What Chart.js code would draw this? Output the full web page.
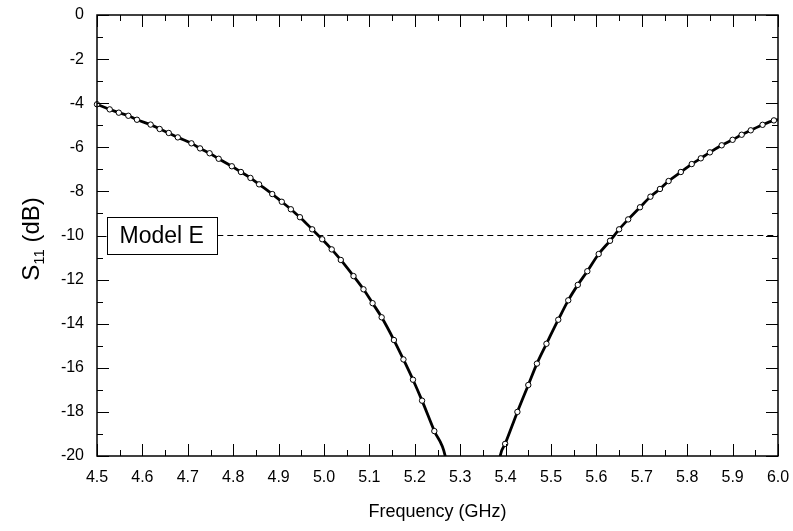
<!DOCTYPE html>
<html lang="en">
<head>
<meta charset="UTF-8">
<title>S11 - Model E</title>
<script src="https://cdn.jsdelivr.net/npm/chart.js"></script>
<style>
  body { margin: 0; background: #fff; }
  #wrap { width: 793px; height: 531px; }
</style>
</head>
<body>
<div id="wrap"><canvas id="s11Chart" width="793" height="531"></canvas></div>
<script>
// measured points (open circles)
const measFreq = [
  4.500, 4.528, 4.548, 4.569, 4.588, 4.618, 4.638, 4.658, 4.678, 4.708,
  4.727, 4.748, 4.768, 4.797, 4.817, 4.838, 4.857, 4.886, 4.907, 4.927,
  4.947, 4.974, 4.996, 5.017, 5.037, 5.065, 5.087, 5.107, 5.127, 5.154,
  5.175, 5.196, 5.216, 5.243,
  5.399, 5.426, 5.450, 5.469, 5.490, 5.516, 5.538, 5.559, 5.580, 5.605,
  5.630, 5.650, 5.670, 5.696, 5.719, 5.740, 5.759, 5.786, 5.810, 5.830,
  5.850, 5.876, 5.900, 5.920, 5.940, 5.966, 5.991
];
const measS11 = [
  -4.05, -4.28, -4.43, -4.57, -4.75, -4.97, -5.17, -5.35, -5.55, -5.82,
  -6.05, -6.27, -6.52, -6.86, -7.12, -7.39, -7.68, -8.12, -8.47, -8.81,
  -9.17, -9.72, -10.17, -10.63, -11.11, -11.84, -12.44, -13.07, -13.71, -14.74,
  -15.62, -16.54, -17.49, -18.87,
  -19.45, -18.00, -16.78, -15.81, -14.91, -13.82, -12.94, -12.24, -11.62, -10.84,
  -10.24, -9.72, -9.27, -8.72, -8.24, -7.89, -7.53, -7.12, -6.76, -6.50,
  -6.23, -5.91, -5.66, -5.43, -5.23, -4.98, -4.78
];
// extra points for the solid model curve (resonance dip goes off the bottom)
const curveFreq = [5.267, 5.300, 5.330, 5.360, 5.388, 6.000];
const curveS11  = [-20.0, -24.5, -28.0, -24.5, -20.0, -4.74];

const refLevel = -10;
const refFreq = [4.765, 6.0];
const boxFreq = 4.6425;
const boxText = 'Model E';

const xMin = 4.5, xMax = 6.0, xMajor = 0.1, xMinor = 0.05;
const yMin = -20, yMax = 0, yMajor = 2, yMinor = 1;

const FONT = '"Liberation Sans", Arial, sans-serif';

const measData = measFreq.map((f, i) => ({ x: f, y: measS11[i] }));
const curveData = measData
  .concat(curveFreq.map((f, i) => ({ x: f, y: curveS11[i] })))
  .sort((a, b) => a.x - b.x);
const refData = refFreq.map(f => ({ x: f, y: refLevel }));

const framePlugin = {
  id: 'frame',
  afterDraw(chart) {
    const ctx = chart.ctx;
    const xs = chart.scales.x, ys = chart.scales.y;
    const a = chart.chartArea;
    ctx.save();

    // inward ticks on all four sides
    ctx.strokeStyle = '#000';
    ctx.lineWidth = 1;
    ctx.beginPath();
    const nx = Math.round((xMax - xMin) / xMinor);
    for (let i = 0; i <= nx; i++) {
      const px = Math.round(xs.getPixelForValue(xMin + i * xMinor)) + 0.5;
      const len = i % 2 === 0 ? 12 : 6;
      ctx.moveTo(px, a.bottom); ctx.lineTo(px, a.bottom - len);
      ctx.moveTo(px, a.top); ctx.lineTo(px, a.top + len);
    }
    const ny = Math.round((yMax - yMin) / yMinor);
    for (let i = 0; i <= ny; i++) {
      const py = Math.round(ys.getPixelForValue(yMin + i * yMinor)) + 0.5;
      const len = i % 2 === 0 ? 12 : 6;
      ctx.moveTo(a.left, py); ctx.lineTo(a.left + len, py);
      ctx.moveTo(a.right, py); ctx.lineTo(a.right - len, py);
    }
    ctx.stroke();

    // frame
    ctx.lineWidth = 1.5;
    ctx.strokeRect(a.left, a.top, a.right - a.left, a.bottom - a.top);

    // "Model E" label box
    ctx.font = '23px ' + FONT;
    const tw = ctx.measureText(boxText).width;
    const cx = xs.getPixelForValue(boxFreq);
    const cy = ys.getPixelForValue(refLevel);
    const bw = tw + 26, bh = 37;
    ctx.fillStyle = '#fff';
    ctx.fillRect(cx - bw / 2, cy - bh / 2, bw, bh);
    ctx.lineWidth = 1;
    ctx.strokeRect(Math.round(cx - bw / 2) + 0.5, Math.round(cy - bh / 2) + 0.5, Math.round(bw), bh);
    ctx.fillStyle = '#000';
    ctx.textAlign = 'center';
    ctx.textBaseline = 'middle';
    ctx.fillText(boxText, cx, cy + 1);

    // y axis title with subscript: S11 (dB)
    const big = '24px ' + FONT, small = '15px ' + FONT;
    ctx.font = big; const wS = ctx.measureText('S').width;
    const wRest = ctx.measureText(' (dB)').width;
    ctx.font = small; const wSub = ctx.measureText('11').width;
    const total = wS + wSub + wRest;
    ctx.translate(32, 239);
    ctx.rotate(-Math.PI / 2);
    ctx.textAlign = 'left';
    ctx.textBaseline = 'middle';
    let x0 = -total / 2;
    ctx.font = big; ctx.fillText('S', x0, 0);
    ctx.font = small; ctx.fillText('11', x0 + wS, 8);
    ctx.font = big; ctx.fillText(' (dB)', x0 + wS + wSub, 0);
    ctx.restore();
  }
};

new Chart(document.getElementById('s11Chart'), {
  type: 'scatter',
  data: {
    datasets: [
      {
        label: 'ref',
        data: refData,
        showLine: true,
        borderColor: '#000',
        borderWidth: 1,
        borderDash: [6, 4],
        pointRadius: 0,
        order: 3
      },
      {
        label: 'model',
        data: curveData,
        showLine: true,
        borderColor: '#000',
        borderWidth: 2.8,
        cubicInterpolationMode: 'monotone',
        pointRadius: 0,
        order: 2
      },
      {
        label: 'measured',
        data: measData,
        showLine: false,
        pointRadius: 2.7,
        pointBackgroundColor: '#fff',
        pointBorderColor: '#000',
        pointBorderWidth: 1,
        clip: false,
        order: 1
      }
    ]
  },
  options: {
    responsive: false,
    animation: false,
    events: [],
    layout: { padding: { left: 0, right: 15, top: 15, bottom: 0 } },
    plugins: { legend: { display: false }, tooltip: { enabled: false } },
    scales: {
      x: {
        type: 'linear',
        min: xMin, max: xMax,
        grid: { display: false, drawTicks: false },
        border: { display: false },
        ticks: {
          stepSize: xMajor,
          padding: 12,
          color: '#000',
          font: { family: FONT, size: 16 },
          callback: v => v.toFixed(1),
          maxRotation: 0,
          autoSkip: false
        },
        title: {
          display: true,
          text: 'Frequency (GHz)',
          color: '#000',
          font: { family: FONT, size: 18 },
          padding: { top: 2, bottom: 8 }
        },
        afterFit: s => { s.height = 75; s.paddingLeft = 0; s.paddingRight = 0; }
      },
      y: {
        type: 'linear',
        min: yMin, max: yMax,
        grid: { display: false, drawTicks: false },
        border: { display: false },
        ticks: {
          stepSize: yMajor,
          padding: 13,
          color: '#000',
          font: { family: FONT, size: 16 },
          autoSkip: false
        },
        afterFit: s => { s.width = 97; s.paddingTop = 0; s.paddingBottom = 0; }
      }
    }
  },
  plugins: [framePlugin]
});
</script>
</body>
</html>
